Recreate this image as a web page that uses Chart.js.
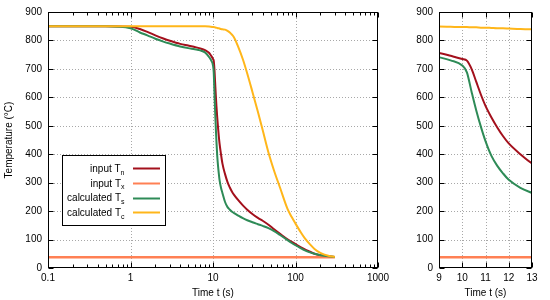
<!DOCTYPE html>
<html><head><meta charset="utf-8">
<script src="https://cdn.jsdelivr.net/npm/chart.js@4/dist/chart.umd.min.js"></script>
<style>
html,body{margin:0;padding:0;background:#fff;}
#wrap{position:relative;width:550px;height:300px;overflow:hidden;}
#c1{position:absolute;left:0;top:0;width:392px;height:300px;}
#c2{position:absolute;left:392px;top:0;width:158px;height:300px;}
</style></head><body>
<div id="wrap"><canvas id="c1" width="392" height="300"></canvas><canvas id="c2" width="158" height="300"></canvas></div>
<script>
// ---- data ----
const time = [0.1, 0.5, 1, 1.3, 1.6, 2, 2.5, 3, 4, 5, 6, 7, 8, 9, 9.5, 10, 10.2, 10.4, 10.6, 10.8, 11, 11.25, 11.5, 11.75, 12, 12.5, 13, 14, 15, 16, 17, 18, 20, 23, 26, 30, 35, 40, 47, 55, 65, 80, 90, 100, 115, 130, 150, 170, 200, 250, 300];
const Tn = [850, 850, 848, 840, 830, 818, 807, 799, 788, 782, 777, 772, 766, 756, 746, 735, 729, 700, 655, 610, 570, 530, 495, 464, 438, 400, 368, 330, 302, 283, 268, 257, 240, 220, 205, 190, 176, 166, 152, 136, 120, 101, 92, 84, 73, 65, 57, 50, 45, 41, 39];
const Ts = [850, 850, 843, 828, 818, 806, 796, 789, 779, 773, 769, 765, 758, 741, 730, 712, 688, 620, 555, 497, 446, 395, 360, 333, 310, 282, 264, 232, 214, 205, 198, 193, 185, 175, 168, 161, 154, 148, 140, 130, 116, 98, 88, 80, 70, 62, 55, 50, 45, 41, 39];
const Tc = [850, 850, 850, 850, 850, 850, 850, 850, 850, 850, 850, 850, 850, 849, 848, 847, 847, 846, 846, 845, 845, 844, 843, 843, 842, 840, 839, 838, 834, 828, 820, 810, 781, 734, 684, 620, 549, 485, 406, 342, 282, 208, 179, 156, 127, 104, 83, 67, 53, 43, 39];
const timeX = [0.1, 300];
const Tx = [38, 38];
const leftXTicks = [0.1, 1, 10, 100, 1000];
const rightXTicks = [9, 10, 11, 12, 13];
const yTicks = [0, 100, 200, 300, 400, 500, 600, 700, 800, 900];
const seriesNames = ['input T', 'input T', 'calculated T', 'calculated T'];
const seriesSubs = ['n', 'x', 's', 'c'];

const COL = {n: '#a3101c', x: '#ff8054', s: '#2e8b57', c: '#ffb61a'};
const FONT = "'Liberation Sans', Arial, sans-serif";
Chart.defaults.font.family = FONT;
Chart.defaults.font.size = 10;
Chart.defaults.color = '#000';

const pts = (xs, ys) => xs.map((t, i) => ({x: t, y: ys[i]}));
function makeDatasets() {
  return [
    {label: 'input Tn', data: pts(time, Tn), borderColor: COL.n, borderWidth: 2, order: 3},
    {label: 'input Tx', data: pts(timeX, Tx), borderColor: COL.x, borderWidth: 2.5, order: 2},
    {label: 'calculated Ts', data: pts(time, Ts), borderColor: COL.s, borderWidth: 2, order: 1},
    {label: 'calculated Tc', data: pts(time, Tc), borderColor: COL.c, borderWidth: 2, order: 0}
  ].map(d => Object.assign(d, {pointRadius: 0, fill: false, cubicInterpolationMode: 'monotone'}));
}

function framePlugin(xGrid, xMajor, xMinor) {
  return {
    id: 'frame',
    beforeDatasetsDraw(chart) {
      const {ctx, chartArea: a, scales: {x, y}} = chart;
      ctx.save();
      ctx.strokeStyle = '#a8a8a8'; ctx.lineWidth = 1; ctx.setLineDash([1, 2]);
      ctx.beginPath();
      xGrid.forEach(v => { const p = Math.round(x.getPixelForValue(v)) + 0.5; ctx.moveTo(p, a.top); ctx.lineTo(p, a.bottom); });
      yTicks.forEach(v => { if (v === 0 || v === 900) return; const p = Math.round(y.getPixelForValue(v)) + 0.5; ctx.moveTo(a.left, p); ctx.lineTo(a.right, p); });
      ctx.stroke();
      ctx.restore();
    },
    afterDatasetsDraw(chart) {
      const {ctx, chartArea: a, scales: {x, y}} = chart;
      ctx.save();
      ctx.setLineDash([]); ctx.strokeStyle = '#000'; ctx.lineWidth = 1;
      ctx.beginPath();
      const L = Math.round(a.left) + 0.5, R = Math.round(a.right) - 0.5, T = Math.round(a.top) + 0.5, B = Math.round(a.bottom) - 0.5;
      const tick = (v, len) => { const p = Math.round(x.getPixelForValue(v)) + 0.5; ctx.moveTo(p, B); ctx.lineTo(p, B - len); ctx.moveTo(p, T); ctx.lineTo(p, T + len); };
      xMajor.forEach(v => tick(v, 5));
      xMinor.forEach(v => tick(v, 3));
      yTicks.forEach(v => { const p = Math.round(y.getPixelForValue(v)) + 0.5; ctx.moveTo(L, p); ctx.lineTo(L + 5, p); ctx.moveTo(R, p); ctx.lineTo(R - 5, p); });
      ctx.stroke();
      ctx.strokeRect(L, T, R - L, B - T);
      ctx.restore();
    }
  };
}

const legendPlugin = {
  id: 'keybox',
  afterDraw(chart) {
    const ctx = chart.ctx;
    const cols = [COL.n, COL.x, COL.s, COL.c];
    ctx.save();
    ctx.fillStyle = '#fff'; ctx.fillRect(62, 155, 104, 71);
    ctx.strokeStyle = '#000'; ctx.lineWidth = 1; ctx.setLineDash([]);
    ctx.strokeRect(62.5, 155.5, 103, 70);
    seriesNames.forEach((name, i) => {
      const yc = 168.3 + i * 14.6;
      ctx.font = '7px ' + FONT;
      const sw = ctx.measureText(seriesSubs[i]).width;
      const xEnd = 124.5;
      ctx.fillStyle = '#000'; ctx.textBaseline = 'alphabetic';
      ctx.textAlign = 'left';
      ctx.fillText(seriesSubs[i], xEnd - sw, yc + 6.5);
      ctx.font = '10px ' + FONT; ctx.textAlign = 'right';
      ctx.fillText(name, xEnd - sw, yc + 3.6);
      ctx.strokeStyle = cols[i]; ctx.lineWidth = 2;
      ctx.beginPath(); ctx.moveTo(133, Math.round(yc) + 0.5); ctx.lineTo(160, Math.round(yc) + 0.5); ctx.stroke();
    });
    ctx.restore();
  }
};

function yScale(width, withTitle) {
  return {
    type: 'linear', min: 0, max: 900,
    grid: {display: false, drawTicks: false},
    border: {display: false},
    ticks: {stepSize: 100, padding: 6, color: '#000', font: {size: 10}},
    afterBuildTicks: s => { s.ticks = yTicks.map(v => ({value: v})); },
    afterFit: s => { s.width = width; s.paddingTop = 0; s.paddingBottom = 0; },
    title: {display: withTitle, text: 'Temperature (°C)', color: '#000', font: {size: 10}, padding: {top: 3, bottom: 0}}
  };
}
function xTitle() {
  return {display: true, text: 'Time t (s)', color: '#000', font: {size: 10}, padding: {top: 0, bottom: 1}};
}

const minorLog = [];
[0.1, 1, 10, 100].forEach(d => { for (let k = 2; k <= 9; k++) minorLog.push(+(d * k).toPrecision(3)); });

new Chart(document.getElementById('c1'), {
  type: 'line',
  data: {datasets: makeDatasets()},
  options: {
    responsive: false, animation: false, devicePixelRatio: 1,
    layout: {padding: {left: 0, top: 12, right: 14, bottom: 0}},
    plugins: {legend: {display: false}, tooltip: {enabled: false}},
    scales: {
      x: {
        type: 'logarithmic', min: 0.1, max: 1000,
        grid: {display: false, drawTicks: false}, border: {display: false},
        ticks: {autoSkip: false, maxRotation: 0, padding: 4, color: '#000', font: {size: 10},
          callback: v => String(v)},
        afterBuildTicks: s => { s.ticks = leftXTicks.map(v => ({value: v})); },
        afterFit: s => { s.height = 32; s.paddingLeft = 0; s.paddingRight = 0; },
        title: xTitle()
      },
      y: yScale(48, true)
    }
  },
  plugins: [framePlugin([1, 10, 100], leftXTicks, minorLog), legendPlugin]
});

new Chart(document.getElementById('c2'), {
  type: 'line',
  data: {datasets: makeDatasets()},
  options: {
    responsive: false, animation: false, devicePixelRatio: 1,
    layout: {padding: {left: 0, top: 12, right: 18, bottom: 0}},
    plugins: {legend: {display: false}, tooltip: {enabled: false}},
    scales: {
      x: {
        type: 'linear', min: 9, max: 13,
        grid: {display: false, drawTicks: false}, border: {display: false},
        ticks: {autoSkip: false, maxRotation: 0, padding: 4, stepSize: 1, color: '#000', font: {size: 10}},
        afterBuildTicks: s => { s.ticks = rightXTicks.map(v => ({value: v})); },
        afterFit: s => { s.height = 32; s.paddingLeft = 0; s.paddingRight = 0; },
        title: xTitle()
      },
      y: yScale(47, false)
    }
  },
  plugins: [framePlugin([10, 11, 12], rightXTicks, [])]
});
</script>
</body></html>
